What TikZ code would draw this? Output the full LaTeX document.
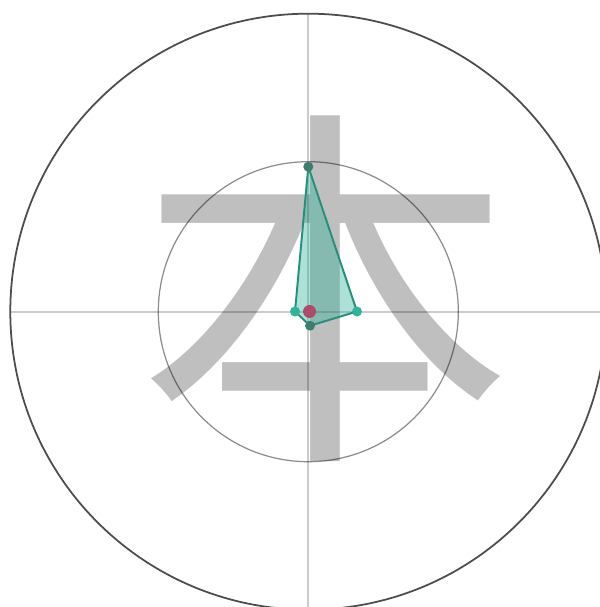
\documentclass[tikz,border=0pt]{standalone}
\usepackage{fontspec}
\newfontfamily\cjk{Noto Sans CJK SC}
\usetikzlibrary{backgrounds}
\definecolor{teal1}{HTML}{2FB39A}
\definecolor{teal2}{HTML}{3E7E70}
\definecolor{dotred}{HTML}{B04A6A}

\begin{document}
\begin{tikzpicture}[x=0.01cm,y=-0.01cm,
  guide/.style={draw=black,draw opacity=0.2,line width=0.6pt},
  ring/.style={draw=black!70,line width=0.5pt},
  inring/.style={draw=black,draw opacity=0.45,line width=0.35pt},
  glyph/.style={inner sep=0pt,text=black!25,font=\cjk\fontsize{107}{107}\selectfont},
  vtx/.style={circle,fill=teal1,inner sep=0pt,minimum size=0.1cm},
  vtxdark/.style={vtx,fill=teal2},
  hull/.style={fill=teal1,fill opacity=0.4,draw=teal1!80!black,draw opacity=1,line width=0.55pt,line join=round}]
  \useasboundingbox (0,0) rectangle (599,607);
  \clip (0,0) rectangle (599,607);
  % stroke points
  \node[vtxdark] (top) at (308.3,166.7) {};
  \node[vtx] (left) at (295,311.5) {};
  \node[vtxdark] (bot) at (310,325.7) {};
  \node[vtx] (right) at (357,311.5) {};
  \node[circle,fill=dotred,inner sep=0pt,minimum size=0.13cm] (mid) at (309.5,311.5) {};
  \begin{scope}[on background layer]
    \node[glyph] (ben) at (326,289) {本};
    \coordinate (c) at (308.3,311.7);
    \coordinate (n) at (308.3,13.7);
    \coordinate (s) at (308.3,609.7);
    \coordinate (w) at (10.3,311.7);
    \coordinate (e) at (606.3,311.7);
    \draw[guide] (n) -- (s);
    \draw[guide] (w) -- (e);
    \draw[ring] (c) circle[radius=298];
    \draw[inring] (c) circle[radius=150];
    \path[hull] (top.center) -- (left.center) -- (bot.center) -- (right.center) -- cycle;
  \end{scope}
\end{tikzpicture}
\end{document}
